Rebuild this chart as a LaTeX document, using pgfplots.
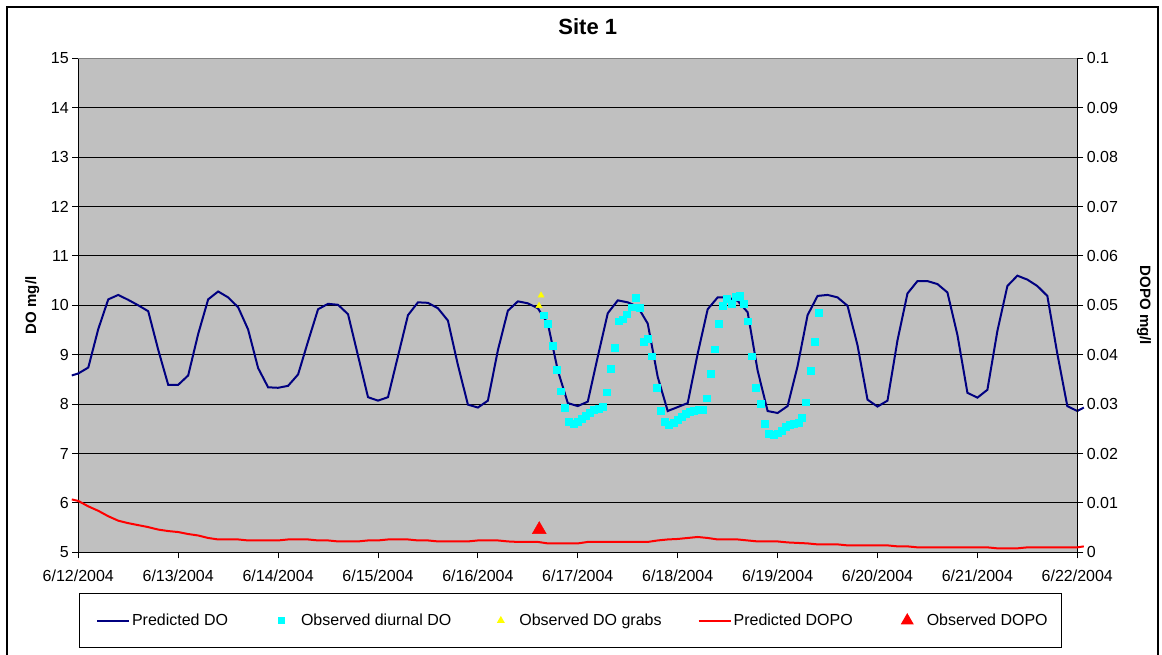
\documentclass[border=0pt]{standalone}
\usepackage{fontspec}
\setmainfont{Liberation Sans}
\usepackage{pgfplots}
\pgfplotsset{compat=1.18}
\definecolor{plotgray}{RGB}{192,192,192}
\definecolor{navyline}{RGB}{0,0,128}
\definecolor{cyanpt}{RGB}{0,255,255}
\definecolor{yellowpt}{RGB}{255,255,0}
\definecolor{redline}{RGB}{255,0,0}
\definecolor{topgray}{RGB}{128,128,128}
\begin{document}
\begin{tikzpicture}
\path[use as bounding box] (0pt,0pt) rectangle (1162pt,654pt);
\draw[line width=2pt] (7pt,-20pt) -- (7pt,647pt) -- (1158pt,647pt) -- (1158pt,-20pt);
\begin{axis}[
  at={(78.3pt,101.7pt)}, anchor=south west,
  scale only axis, width=999pt, height=494pt,
  xmin=0, xmax=10, ymin=5, ymax=15,
  axis background/.style={fill=plotgray},
  axis x line*=bottom, axis y line*=left,
  axis line style={black, line width=1pt, -},
  xtick={0,1,2,3,4,5,6,7,8,9,10},
  xticklabels={6/12/2004,6/13/2004,6/14/2004,6/15/2004,6/16/2004,6/17/2004,6/18/2004,6/19/2004,6/20/2004,6/21/2004,6/22/2004},
  xticklabel style={yshift=-8pt},
  ytick={5,6,7,8,9,10,11,12,13,14,15},
  ymajorgrids, major grid style={black, line width=0.9pt},
  tick align=outside, major tick length=6pt,
  tick style={black, line width=0.9pt},
  ticklabel style={font=\fontsize{16}{18}\selectfont},
  /pgf/number format/assume math mode=true,
  ylabel={DO mg/l},
  ylabel style={font=\bfseries\fontsize{15}{17}\selectfont, at={(axis description cs:-0.046,0.5)}, anchor=center},
  title={Site 1},
  title style={font=\bfseries\fontsize{22}{26}\selectfont, at={(axis description cs:0.510,1.0512)}, anchor=center},
  clip=false,
]
\addplot[navyline, line width=2pt, no markers] coordinates {
(-0.065,8.58)
(0.0,8.62)(0.1,8.74)(0.2,9.52)(0.3,10.12)(0.4,10.21)(0.5,10.11)(0.6,10.00)(0.7,9.88)(0.8,9.10)(0.9,8.39)
(1.0,8.39)(1.1,8.58)(1.2,9.42)(1.3,10.12)(1.4,10.28)(1.5,10.16)(1.6,9.96)(1.7,9.51)(1.8,8.73)(1.9,8.34)
(2.0,8.33)(2.1,8.37)(2.2,8.60)(2.3,9.27)(2.4,9.92)(2.5,10.03)(2.6,10.01)(2.7,9.82)(2.8,8.98)(2.9,8.14)
(3.0,8.07)(3.1,8.14)(3.2,8.97)(3.3,9.80)(3.4,10.06)(3.5,10.05)(3.6,9.94)(3.7,9.69)(3.8,8.79)(3.9,7.99)
(4.0,7.93)(4.1,8.07)(4.2,9.09)(4.3,9.89)(4.4,10.08)(4.5,10.04)(4.6,9.94)(4.7,9.63)(4.8,8.68)(4.9,8.02)
(5.0,7.96)(5.1,8.05)(5.2,8.96)(5.3,9.84)(5.4,10.10)(5.5,10.06)(5.6,9.97)(5.7,9.63)(5.8,8.55)(5.9,7.86)
(6.0,7.94)(6.1,8.02)(6.2,9.02)(6.3,9.92)(6.4,10.16)(6.5,10.16)(6.6,10.09)(6.7,9.86)(6.8,8.68)(6.9,7.86)
(7.0,7.82)(7.1,7.96)(7.2,8.77)(7.3,9.80)(7.4,10.19)(7.5,10.21)(7.6,10.16)(7.7,9.99)(7.8,9.19)(7.9,8.09)
(8.0,7.95)(8.1,8.07)(8.2,9.29)(8.3,10.24)(8.4,10.49)(8.5,10.49)(8.6,10.43)(8.7,10.26)(8.8,9.40)(8.9,8.23)
(9.0,8.13)(9.1,8.29)(9.2,9.48)(9.3,10.39)(9.4,10.60)(9.5,10.52)(9.6,10.39)(9.7,10.19)(9.8,9.02)(9.9,7.96)
(10.0,7.86)(10.065,7.93)
};
\addplot[cyanpt, only marks, mark=square*, mark size=3.4pt] coordinates {
(4.655,9.80)(4.698,9.62)(4.748,9.18)(4.792,8.69)(4.832,8.26)(4.872,7.92)(4.909,7.65)(4.955,7.60)
(4.995,7.64)(5.039,7.70)(5.082,7.76)(5.122,7.83)(5.162,7.88)(5.206,7.91)(5.246,7.94)(5.292,8.24)
(5.332,8.71)(5.372,9.14)(5.409,9.68)(5.449,9.72)(5.489,9.82)(5.539,9.96)(5.579,10.16)(5.623,9.95)
(5.659,9.27)(5.699,9.32)(5.739,8.97)(5.793,8.33)(5.833,7.87)(5.873,7.64)(5.913,7.58)(5.956,7.63)
(5.996,7.68)(6.040,7.74)(6.080,7.80)(6.123,7.84)(6.163,7.87)(6.207,7.88)(6.247,7.89)(6.293,8.12)
(6.333,8.61)(6.373,9.11)(6.413,9.63)(6.453,9.99)(6.494,10.13)(6.540,10.04)(6.580,10.18)(6.620,10.20)
(6.660,10.03)(6.700,9.68)(6.744,8.97)(6.784,8.33)(6.834,8.00)(6.874,7.61)(6.914,7.40)(6.957,7.38)
(6.997,7.41)(7.041,7.46)(7.081,7.54)(7.124,7.59)(7.164,7.60)(7.208,7.62)(7.244,7.72)(7.284,8.04)
(7.334,8.68)(7.374,9.27)(7.414,9.85)
};
\addplot[yellowpt, only marks, mark=triangle*, mark size=3.6pt] coordinates {
(4.612,9.99)(4.632,10.20)
};
\draw[topgray, line width=0.9pt] (rel axis cs:0,1) -- (rel axis cs:1,1);
\end{axis}
\begin{axis}[
  at={(78.3pt,101.7pt)}, anchor=south west,
  scale only axis, width=999pt, height=494pt,
  xmin=0, xmax=10, ymin=0, ymax=0.1,
  axis x line=none, axis y line*=right,
  axis line style={black, line width=1pt, -},
  ytick={0,0.01,0.02,0.03,0.04,0.05,0.06,0.07,0.08,0.09,0.1},
  scaled y ticks=false,
  yticklabel style={/pgf/number format/.cd, fixed, precision=2},
  tick align=outside, major tick length=6pt,
  tick style={black, line width=0.9pt},
  ticklabel style={font=\fontsize{16}{18}\selectfont},
  /pgf/number format/assume math mode=true,
  ylabel={DOPO mg/l},
  ylabel style={font=\bfseries\fontsize{15}{17}\selectfont, rotate=180, at={(axis description cs:1.0668,0.5)}, anchor=center},
  clip=false,
  legend image code/.code={\path (0pt,0pt) (32pt,0pt); \draw[mark repeat=2,mark phase=2,#1] plot coordinates {(0pt,0pt) (16pt,0pt) (32pt,0pt)};},
  legend style={at={(axis description cs:0.0007,-0.0824)}, anchor=north west, draw=black, line width=1pt, fill=white,
    legend columns=-1, font=\fontsize{16}{18}\selectfont, inner xsep=12pt, inner ysep=19.5pt,
    nodes={inner xsep=2pt, inner ysep=1pt},
    /tikz/column 2/.style={column sep=35pt},
    /tikz/column 3/.style={column sep=1pt},
    /tikz/column 4/.style={column sep=31pt},
    /tikz/column 5/.style={column sep=0pt},
    /tikz/column 6/.style={column sep=34pt},
    /tikz/column 8/.style={column sep=36pt},
    /tikz/column 9/.style={column sep=1pt}},
]
\addlegendimage{legend image code/.code={\path (-5pt,0pt) (32pt,0pt); \draw[navyline, line width=2pt] (0pt,0pt) -- (32pt,0pt);}}
\addlegendentry{Predicted DO}
\addlegendimage{cyanpt, only marks, mark=square*, mark size=3.4pt}
\addlegendentry{Observed diurnal DO}
\addlegendimage{yellowpt, only marks, mark=triangle*, mark size=3.6pt}
\addlegendentry{Observed DO grabs}
\addplot[redline, line width=2pt, no markers] coordinates {
(-0.065,0.0107)
(0.0,0.0104)(0.1,0.0093)(0.2,0.0084)(0.3,0.0073)(0.4,0.0064)(0.5,0.0059)(0.6,0.0055)(0.7,0.0051)(0.8,0.0046)(0.9,0.0043)
(1.0,0.0041)(1.1,0.0037)(1.2,0.0034)(1.3,0.0029)(1.4,0.0026)(1.5,0.0026)(1.6,0.0026)(1.7,0.0024)(1.8,0.0024)(1.9,0.0024)
(2.0,0.0024)(2.1,0.0026)(2.2,0.0026)(2.3,0.0026)(2.4,0.0024)(2.5,0.0024)(2.6,0.0022)(2.7,0.0022)(2.8,0.0022)(2.9,0.0024)
(3.0,0.0024)(3.1,0.0026)(3.2,0.0026)(3.3,0.0026)(3.4,0.0024)(3.5,0.0024)(3.6,0.0022)(3.7,0.0022)(3.8,0.0022)(3.9,0.0022)
(4.0,0.0024)(4.1,0.0024)(4.2,0.0024)(4.3,0.0022)(4.4,0.0021)(4.5,0.0021)(4.6,0.0021)(4.7,0.0018)(4.8,0.0018)(4.9,0.0018)
(5.0,0.0018)(5.1,0.0021)(5.2,0.0021)(5.3,0.0021)(5.4,0.0021)(5.5,0.0021)(5.6,0.0021)(5.7,0.0021)(5.8,0.0024)(5.9,0.0026)
(6.0,0.0027)(6.1,0.0029)(6.2,0.0031)(6.3,0.0029)(6.4,0.0026)(6.5,0.0026)(6.6,0.0026)(6.7,0.0024)(6.8,0.0022)(6.9,0.0022)
(7.0,0.0022)(7.1,0.0020)(7.2,0.0019)(7.3,0.0018)(7.4,0.0016)(7.5,0.0016)(7.6,0.0016)(7.7,0.0014)(7.8,0.0014)(7.9,0.0014)
(8.0,0.0014)(8.1,0.0014)(8.2,0.0012)(8.3,0.0012)(8.4,0.0010)(8.5,0.0010)(8.6,0.0010)(8.7,0.0010)(8.8,0.0010)(8.9,0.0010)
(9.0,0.0010)(9.1,0.0010)(9.2,0.0008)(9.3,0.0008)(9.4,0.0008)(9.5,0.0010)(9.6,0.0010)(9.7,0.0010)(9.8,0.0010)(9.9,0.0010)
(10.0,0.0010)(10.065,0.0012)
};
\addlegendentry{Predicted DOPO}
\addplot[redline, only marks, mark=triangle*, mark size=8pt, legend image post style={mark size=6.5pt}] coordinates {
(4.614,0.0046)
};
\addlegendentry{Observed DOPO}
\end{axis}
\end{tikzpicture}
\end{document}
